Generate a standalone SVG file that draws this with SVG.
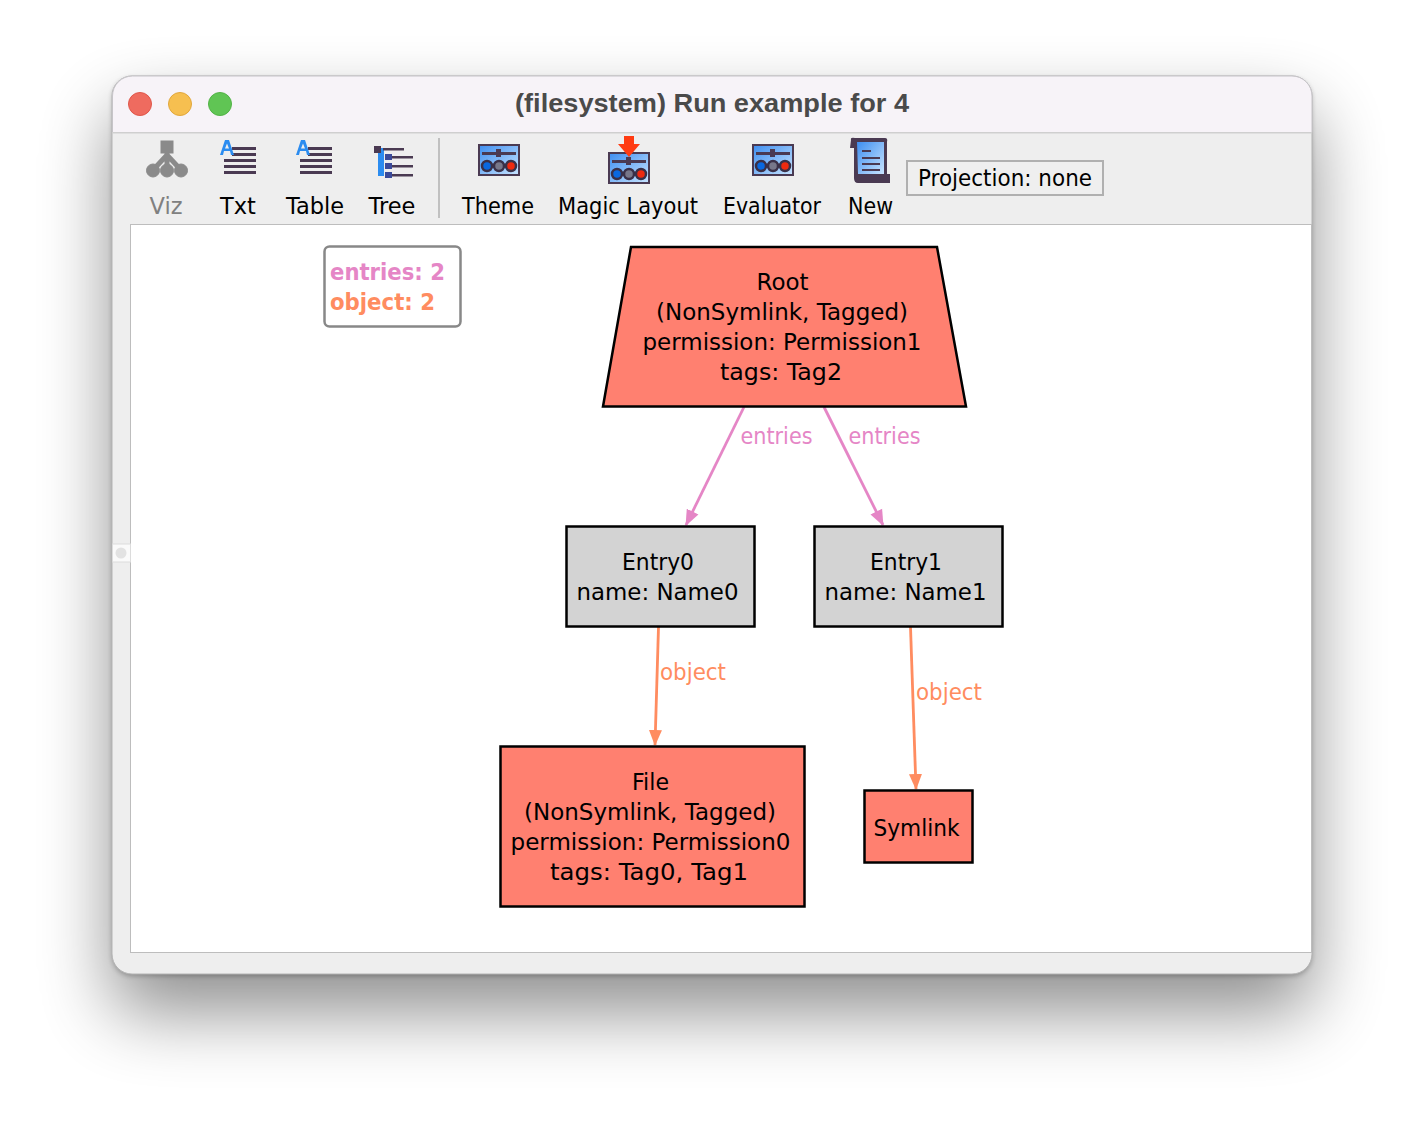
<svg xmlns="http://www.w3.org/2000/svg" xmlns:xlink="http://www.w3.org/1999/xlink" width="1424" height="1122" viewBox="0 0 1424 1122">
<style>
text{font-family:"DejaVu Sans",Verdana,sans-serif;font-size:23px;fill:#000;text-anchor:middle}
.tb{font-size:22.5px}
.n{stroke:#000;stroke-width:2.500;}
.red{fill:#ff8070}.gray{fill:#d3d3d3}
.pink{stroke:#e586c6;fill:none;stroke-width:2.800}
.org{stroke:#ff8c60;fill:none;stroke-width:2.800}
.lp{fill:#e586c6}.lo{fill:#ff8c60}
.ink{fill:#4a3a52}
</style>
<defs>
<filter id="sh" x="-20%" y="-20%" width="140%" height="150%"><feGaussianBlur stdDeviation="36"/></filter>
<filter id="sh2" x="-5%" y="-5%" width="110%" height="110%"><feGaussianBlur stdDeviation="2.500"/></filter>
<marker id="ap" viewBox="0 0 16 14" markerWidth="16" markerHeight="14" refX="15" refY="7" orient="auto" markerUnits="userSpaceOnUse"><path d="M0 .5L16 7L0 13.500Z" fill="#e586c6"/></marker>
<marker id="ao" viewBox="0 0 16 14" markerWidth="16" markerHeight="14" refX="15" refY="7" orient="auto" markerUnits="userSpaceOnUse"><path d="M0 .5L16 7L0 13.500Z" fill="#ff8c60"/></marker>
<linearGradient id="blue" x1="0" y1="0" x2="1" y2="1"><stop offset="0" stop-color="#3d8ef0"/><stop offset="1" stop-color="#c8e4ff"/></linearGradient>
<g id="panel">
<rect x="1" y="1" width="40" height="30" fill="url(#blue)" stroke="#4a3a52" stroke-width="2"/>
<rect x="4" y="8" width="34" height="3" fill="#4a3a52"/>
<rect x="18" y="5" width="5" height="8" fill="#4a3a52"/>
<circle cx="9" cy="22" r="5" fill="#0a68e0" stroke="#3a3048" stroke-width="2.500"/>
<circle cx="21" cy="22" r="5" fill="#77778a" stroke="#3a3048" stroke-width="2.500"/>
<circle cx="33" cy="22" r="5" fill="#ee2a10" stroke="#3a3048" stroke-width="2.500"/>
</g>
<g id="lines">
<rect x="12" y="7" width="24" height="3" class="ink"/>
<rect x="12" y="13" width="24" height="3" class="ink"/>
<rect x="4" y="19" width="32" height="3" class="ink"/>
<rect x="4" y="25" width="32" height="3" class="ink"/>
<rect x="4" y="31" width="32" height="3" class="ink"/>
<path d="M0 15L5 0H9L14 15H11L10 11H4L3 15ZM5 8.500H9L7 3.500Z" fill="#2b8cf0"/>
</g>
</defs>

<g id="window">
<rect x="112" y="112" width="1200" height="900" rx="22" fill="#000" opacity=".44" filter="url(#sh)"/>
<rect x="112" y="78" width="1200" height="898" rx="20" fill="#000" opacity=".24" filter="url(#sh2)"/>
<rect x="112" y="76" width="1200" height="898" rx="20" fill="#eeeeee" stroke="#b4b4b4" stroke-width="1"/>
<path d="M112.500 132.500V96a20 20 0 0 1 20-20H1292a20 20 0 0 1 20 20V132.500Z" fill="#f7f3f8" stroke="#c6c4c8" stroke-width="1"/>
<rect x="112" y="132" width="1200" height="1.500" fill="#cfcfcf"/>
<circle cx="140" cy="104" r="11.500" fill="#ef6b5f" stroke="#e0564a" stroke-width="1"/>
<circle cx="180" cy="104" r="11.500" fill="#f6bf50" stroke="#e2a73c" stroke-width="1"/>
<circle cx="220" cy="104" r="11.500" fill="#60c554" stroke="#52b346" stroke-width="1"/>
<text x="712" y="112" style="font-family:'Liberation Sans',Arial,sans-serif;font-weight:bold;font-size:26px;fill:#4a4a4a" textLength="394" lengthAdjust="spacingAndGlyphs">(filesystem) Run example for 4</text>
<rect x="130.500" y="224.500" width="1181" height="728" fill="#fff" stroke="#bdbdbd" stroke-width="1"/>
<rect x="112.500" y="544" width="18" height="18" fill="#fafafa" stroke="#dcdcdc"/>
<circle cx="121" cy="553" r="5.500" fill="#e2e2e2"/>
</g>

<g id="toolbar">
<rect x="438" y="138" width="2" height="80" fill="#c0c0c0"/>
<g id="icon-viz" fill="#8a8a8a" stroke="#8a8a8a">
<rect x="161" y="141" width="12" height="12"/>
<path d="M167 150V170M167 155L153 170M167 155L181 170" stroke-width="5" fill="none"/>
<circle cx="153" cy="170.500" r="6.500"/><circle cx="167" cy="170.500" r="6.500"/><circle cx="181" cy="170.500" r="6.500"/>
</g>
<use xlink:href="#lines" href="#lines" x="220" y="140"/>
<use xlink:href="#lines" href="#lines" x="296" y="140"/>
<g id="icon-tree">
<rect x="378" y="148" width="6" height="28" fill="#2b8cf0"/>
<rect x="374" y="146" width="7" height="7" fill="#4a3a52"/>
<rect x="385" y="154" width="7" height="6" fill="#3a4a9a"/>
<rect x="385" y="163" width="7" height="6" fill="#3a4a9a"/>
<rect x="385" y="172" width="7" height="6" fill="#3a4a9a"/>
<rect x="383" y="148" width="21" height="2.500" class="ink"/>
<rect x="392" y="156" width="21" height="2.500" class="ink"/>
<rect x="392" y="165" width="21" height="2.500" class="ink"/>
<rect x="392" y="174" width="21" height="2.500" class="ink"/>
</g>
<use xlink:href="#panel" href="#panel" x="478" y="144"/>
<use xlink:href="#panel" href="#panel" x="608" y="152"/>
<path d="M624 136H634V144H640L629 157L618 144H624Z" fill="#ff3b12"/>
<use xlink:href="#panel" href="#panel" x="752" y="144"/>
<g id="icon-new">
<path d="M851 140Q850 137 855 138H885Q888 138 887 142V174H890V183H858Q854 183 854 178V148H850Z" fill="#4a3a52"/>
<path d="M857 142H884V174H858Z" fill="url(#blue)"/>
<rect x="862" y="150" width="9" height="2" class="ink"/>
<rect x="862" y="157" width="18" height="2" class="ink"/>
<rect x="862" y="163" width="18" height="2" class="ink"/>
<rect x="862" y="169" width="18" height="2" class="ink"/>
</g>
<text class="tb" x="166" y="214" style="fill:#808080">Viz</text>
<text class="tb" x="238" y="214">Txt</text>
<text class="tb" x="315" y="214">Table</text>
<text class="tb" x="392" y="214">Tree</text>
<text class="tb" x="498" y="214" textLength="72" lengthAdjust="spacingAndGlyphs">Theme</text>
<text class="tb" x="628" y="214" textLength="140" lengthAdjust="spacingAndGlyphs">Magic Layout</text>
<text class="tb" x="772" y="214" textLength="98" lengthAdjust="spacingAndGlyphs">Evaluator</text>
<text class="tb" x="870.500" y="214" textLength="45" lengthAdjust="spacingAndGlyphs">New</text>
<g id="projection">
<rect x="907" y="161" width="196" height="34" fill="#efefef" stroke="#b0b0b0" stroke-width="2"/>
<text class="tb" x="1005" y="186" textLength="174" lengthAdjust="spacingAndGlyphs">Projection: none</text>
</g>
</g>

<g id="legend">
<rect x="324.500" y="246.500" width="136" height="80" rx="5" fill="#fff" stroke="#888" stroke-width="2.500"/>
<text x="330" y="279.500" style="text-anchor:start;font-weight:bold;fill:#e586c6" textLength="115" lengthAdjust="spacingAndGlyphs">entries: 2</text>
<text x="330" y="309.500" style="text-anchor:start;font-weight:bold;fill:#ff8c60" textLength="105" lengthAdjust="spacingAndGlyphs">object: 2</text>
</g>

<g id="connectors">
<path class="pink" d="M744 407L686 525" marker-end="url(#ap)"/>
<path class="pink" d="M824 407L883 525" marker-end="url(#ap)"/>
<path class="org" d="M658.500 627L655 745" marker-end="url(#ao)"/>
<path class="org" d="M910.500 627L916 789" marker-end="url(#ao)"/>
<text class="lp" x="776.500" y="444" textLength="72" lengthAdjust="spacingAndGlyphs">entries</text>
<text class="lp" x="884.500" y="444" textLength="72" lengthAdjust="spacingAndGlyphs">entries</text>
<text class="lo" x="693" y="680" textLength="66" lengthAdjust="spacingAndGlyphs">object</text>
<text class="lo" x="949" y="700" textLength="66" lengthAdjust="spacingAndGlyphs">object</text>
</g>

<g id="root">
<path class="n red" d="M631 247H937L966 406.500H603Z"/>
<text x="782.500" y="290" textLength="52" lengthAdjust="spacingAndGlyphs">Root</text>
<text x="782" y="320" textLength="252" lengthAdjust="spacingAndGlyphs">(NonSymlink, Tagged)</text>
<text x="782" y="350" textLength="279" lengthAdjust="spacingAndGlyphs">permission: Permission1</text>
<text x="781" y="380" textLength="122" lengthAdjust="spacingAndGlyphs">tags: Tag2</text>
</g>
<g id="entry0">
<rect class="n gray" x="566.500" y="526.500" width="188" height="100"/>
<text x="658" y="570" textLength="72" lengthAdjust="spacingAndGlyphs">Entry0</text>
<text x="657.500" y="600" textLength="162" lengthAdjust="spacingAndGlyphs">name: Name0</text>
</g>
<g id="entry1">
<rect class="n gray" x="814.500" y="526.500" width="188" height="100"/>
<text x="906" y="570" textLength="72" lengthAdjust="spacingAndGlyphs">Entry1</text>
<text x="905.500" y="600" textLength="162" lengthAdjust="spacingAndGlyphs">name: Name1</text>
</g>
<g id="file">
<rect class="n red" x="500.500" y="746.500" width="304" height="160"/>
<text x="650.500" y="790" textLength="37" lengthAdjust="spacingAndGlyphs">File</text>
<text x="650" y="820" textLength="252" lengthAdjust="spacingAndGlyphs">(NonSymlink, Tagged)</text>
<text x="650.500" y="850" textLength="280" lengthAdjust="spacingAndGlyphs">permission: Permission0</text>
<text x="649" y="880" textLength="198" lengthAdjust="spacingAndGlyphs">tags: Tag0, Tag1</text>
</g>
<g id="symlink">
<rect class="n red" x="864.500" y="790.500" width="108" height="72"/>
<text x="916.500" y="836" textLength="86" lengthAdjust="spacingAndGlyphs">Symlink</text>
</g>
</svg>
